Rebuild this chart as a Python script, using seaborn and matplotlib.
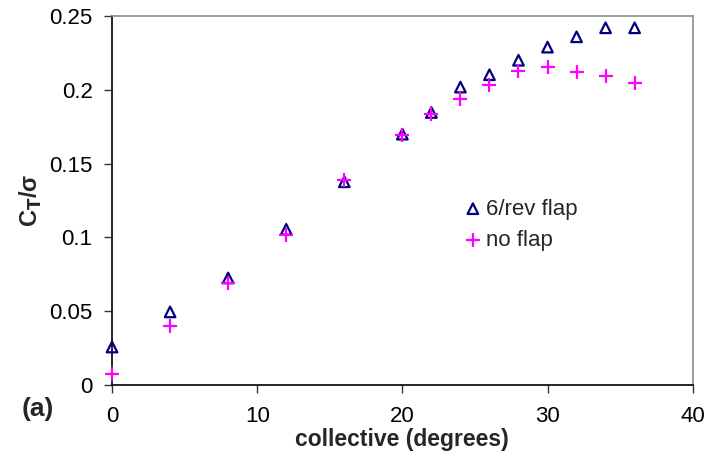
import matplotlib
matplotlib.use("Agg")
import matplotlib.pyplot as plt
import seaborn as sns
import pandas as pd

# collective angle (deg) and thrust coefficient / solidity
collective = [0, 4, 8, 12, 16, 20, 22, 24, 26, 28, 30, 32, 34, 36]
flap_6rev = [0.0257, 0.0495, 0.0725, 0.1055, 0.1377, 0.1700, 0.1847,
             0.2019, 0.2103, 0.2201, 0.2290, 0.2360, 0.2421, 0.2421]
no_flap = [0.0072, 0.0400, 0.0689, 0.1018, 0.1390, 0.1694, 0.1836,
           0.1935, 0.2033, 0.2127, 0.2157, 0.2118, 0.2096, 0.2044]

x_ticks = [0, 10, 20, 30, 40]
y_ticks = [0, 0.05, 0.1, 0.15, 0.2, 0.25]
y_tick_labels = ["0", "0.05", "0.1", "0.15", "0.2", "0.25"]

sns.set_theme(style="ticks")
plt.rcParams["font.family"] = ["Liberation Sans", "DejaVu Sans"]

df = pd.DataFrame({"collective": collective, "flap": flap_6rev, "noflap": no_flap})

fig = plt.figure(figsize=(7.09, 4.61), dpi=100)
ax = fig.add_axes([0.158, 0.165, 0.819, 0.800])

sns.scatterplot(data=df, x="collective", y="flap", marker="^", s=58,
                facecolor="none", edgecolor="#000080", linewidth=1.6,
                label="6/rev flap", ax=ax, zorder=3, clip_on=False)
sns.scatterplot(data=df, x="collective", y="noflap", marker="+", s=90,
                color="#FF00FF", linewidth=1.6, label="no flap", ax=ax,
                zorder=4, clip_on=False)

ax.set_xlim(0, 40)
ax.set_ylim(0, 0.25)
ax.set_xticks(x_ticks)
ax.set_xticklabels([str(t) for t in x_ticks])
ax.set_yticks(y_ticks)
ax.set_yticklabels(y_tick_labels)
ax.tick_params(axis="both", labelsize=16, length=6, width=1, color="#333333",
               colors="black", pad=8)
ax.tick_params(axis="x", pad=9)

for side in ["left", "bottom"]:
    ax.spines[side].set_color("black")
    ax.spines[side].set_linewidth(1.2)
for side in ["top", "right"]:
    ax.spines[side].set_visible(True)
    ax.spines[side].set_color("#8c8c8c")
    ax.spines[side].set_linewidth(1.2)

ax.set_xlabel("collective (degrees)", fontsize=16.5, fontweight="bold", labelpad=1)
ax.set_ylabel("C$_\\mathbf{T}$/σ", fontsize=17, fontweight="bold", labelpad=4)

fig.text(0.031, 0.112, "(a)", fontsize=19, fontweight="bold", va="center", ha="left")

leg = ax.legend(loc="center left", bbox_to_anchor=(0.587, 0.435), frameon=False,
                fontsize=16, handlelength=0.8, handletextpad=0.2,
                labelspacing=0.45, borderpad=0)

fig.savefig("out.png", dpi=100, facecolor="white")
